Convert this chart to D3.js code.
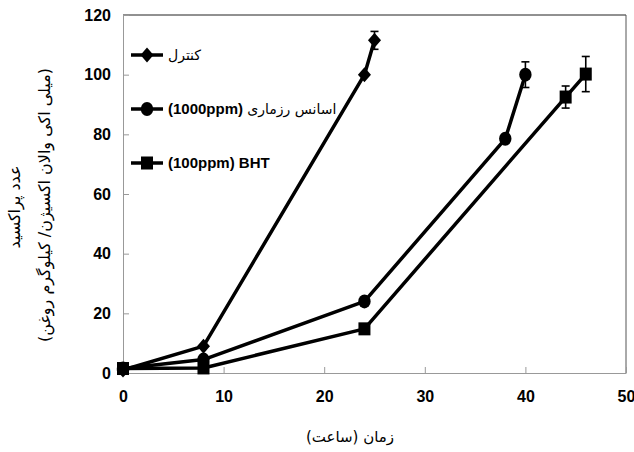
<!DOCTYPE html>
<html>
<head>
<meta charset="utf-8">
<script src="https://cdn.jsdelivr.net/npm/d3@7"></script>
<style>
  body { margin: 0; background: #fff; }
  .tick-label { font-family: "Liberation Sans Narrow", "Liberation Sans", Arial, sans-serif; font-weight: bold; font-size: 16px; fill: #000; }
  .fa { font-family: "DejaVu Sans", sans-serif; font-weight: normal; fill: #000; }
</style>
</head>
<body>
<div id="chart"></div>
<script>
// hours
const hours = {
  control: [0, 8, 24, 25],
  rosemary: [0, 8, 24, 38, 40],
  bht: [0, 8, 24, 44, 46]
};
// peroxide value
const controlValues = [1, 9, 100, 111.5];
const rosemaryValues = [1.5, 4.5, 24, 78.5, 100];
const bhtValues = [1.5, 1.7, 14.8, 92.5, 100.2];
// error bars (only shown on last points)
const controlErr = [0, 0, 0, 3];
const rosemaryErr = [0, 0, 0, 1.2, 4.3];
const bhtErr = [0, 0, 0, 3.7, 5.9];

// legend labels: [latin part, persian part]
const seriesNames = [['', 'کنترل'], ['(1000ppm) ', 'اسانس رزماری'], ['(100ppm) BHT', '']];
const xTicks = [0, 10, 20, 30, 40, 50];
const yTicks = [0, 20, 40, 60, 80, 100, 120];

const width = 634, height = 452;
const margin = { top: 15, right: 8, bottom: 79, left: 123 };
const innerW = width - margin.left - margin.right;
const innerH = height - margin.top - margin.bottom;

const svg = d3.select('#chart').append('svg')
  .attr('width', width).attr('height', height);
const g = svg.append('g').attr('transform', `translate(${margin.left},${margin.top})`);

const x = d3.scaleLinear().domain([0, 50]).range([0, innerW]);
const y = d3.scaleLinear().domain([0, 120]).range([innerH, 0]);

// frame: top and right darker
g.append('line').attr('x1', 0).attr('x2', innerW).attr('y1', 0).attr('y2', 0)
  .attr('stroke', '#222').attr('stroke-width', 1);
g.append('line').attr('x1', innerW).attr('x2', innerW).attr('y1', 0).attr('y2', innerH)
  .attr('stroke', '#555').attr('stroke-width', 1);

// axes
const xAxis = d3.axisBottom(x).tickValues(xTicks).tickSizeInner(-6).tickSizeOuter(0).tickPadding(18);
const yAxis = d3.axisLeft(y).tickValues(yTicks).tickSizeInner(-6).tickSizeOuter(0).tickPadding(12);

const gx = g.append('g').attr('transform', `translate(0,${innerH})`).call(xAxis);
const gy = g.append('g').call(yAxis);
[gx, gy].forEach((ax) => {
  ax.select('.domain').attr('stroke', '#999');
  ax.selectAll('.tick line').attr('stroke', '#999');
  ax.selectAll('.tick text').attr('class', 'tick-label');
});

const series = [
  { name: seriesNames[0], xs: hours.control, ys: controlValues, err: controlErr, marker: 'diamond' },
  { name: seriesNames[1], xs: hours.rosemary, ys: rosemaryValues, err: rosemaryErr, marker: 'circle' },
  { name: seriesNames[2], xs: hours.bht, ys: bhtValues, err: bhtErr, marker: 'square' }
];

function drawMarker(sel, type) {
  if (type === 'diamond') {
    sel.append('path').attr('d', 'M0,-7.5L6.5,0L0,7.5L-6.5,0Z').attr('fill', '#000');
  } else if (type === 'circle') {
    sel.append('ellipse').attr('rx', 6.2).attr('ry', 7).attr('fill', '#000');
  } else {
    sel.append('rect').attr('x', -6).attr('y', -6.5).attr('width', 12).attr('height', 13).attr('fill', '#000');
  }
}

const line = d3.line().x((d) => x(d[0])).y((d) => y(d[1]));

series.forEach((s) => {
  const pts = s.xs.map((h, i) => [h, s.ys[i], s.err[i]]);
  g.append('path').datum(pts).attr('d', line)
    .attr('fill', 'none').attr('stroke', '#000').attr('stroke-width', 3.5)
    .attr('stroke-linejoin', 'round');
  // error bars
  pts.filter((d) => d[2] > 0).forEach((d) => {
    const eg = g.append('g').attr('stroke', '#000').attr('stroke-width', 1.6);
    eg.append('line').attr('x1', x(d[0])).attr('x2', x(d[0]))
      .attr('y1', y(d[1] - d[2])).attr('y2', y(d[1] + d[2]));
    [d[1] - d[2], d[1] + d[2]].forEach((v) => {
      eg.append('line').attr('x1', x(d[0]) - 4).attr('x2', x(d[0]) + 4)
        .attr('y1', y(v)).attr('y2', y(v));
    });
  });
  pts.forEach((d) => {
    drawMarker(g.append('g').attr('transform', `translate(${x(d[0])},${y(d[1])})`), s.marker);
  });
});

// legend
const legend = svg.append('g').attr('transform', 'translate(131,55)');
series.forEach((s, i) => {
  const lg = legend.append('g').attr('transform', `translate(0,${i * 54})`);
  lg.append('line').attr('x1', 0).attr('x2', 32).attr('stroke', '#000').attr('stroke-width', 3.5);
  drawMarker(lg.append('g').attr('transform', 'translate(16,0)'), s.marker);
  const t = lg.append('text').attr('x', 37).attr('y', 5);
  if (s.name[0]) t.append('tspan').attr('class', 'tick-label').style('font-size', '15px').text(s.name[0]);
  if (s.name[1]) t.append('tspan').attr('class', 'fa').style('font-size', '14px').text(s.name[1]);
});

// axis titles
svg.append('text').attr('class', 'fa').attr('direction', 'rtl')
  .attr('x', 350).attr('y', 442).attr('text-anchor', 'middle').style('font-size', '15px')
  .text('زمان (ساعت)');
svg.append('text').attr('class', 'fa').attr('direction', 'rtl')
  .attr('transform', 'translate(20,207) rotate(-90)').attr('text-anchor', 'middle').style('font-size', '16px')
  .text('عدد پراکسید');
svg.append('text').attr('class', 'fa').attr('direction', 'rtl')
  .attr('transform', 'translate(50,205) rotate(-90)').attr('text-anchor', 'middle').style('font-size', '16px')
  .text('(میلی اکی والان اکسیژن/ کیلوگرم روغن)');
</script>
</body>
</html>
